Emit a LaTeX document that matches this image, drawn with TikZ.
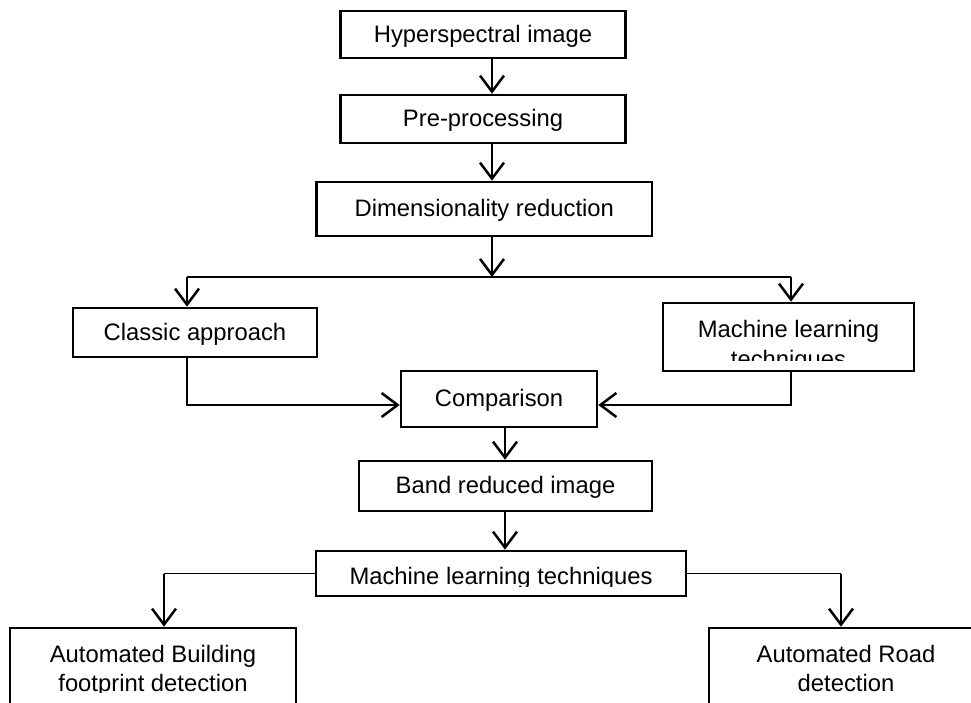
\documentclass[tikz,border=0pt]{standalone}
\usepackage{fontspec}
\setmainfont{Liberation Sans}
\usetikzlibrary{arrows.meta}

\tikzset{
	box/.style={draw, line width=2.6pt, inner sep=0pt, text height=20pt, text depth=5pt},
	txt/.style={inner sep=0pt, anchor=base},
	barb/.style={-{Straight Barb[length=16pt, width=24pt, line width=2.5pt]}},
	flow/.style={line width=2.5pt, barb},
	feed/.style={line width=1.5pt},
}

\begin{document}
\begin{tikzpicture} [x=1pt, y=-1pt, font=\fontsize{23.8pt}{30pt}\selectfont]
		\path [use as bounding box, fill=white] (0,0) rectangle (971,702);
		\clip (0,0) rectangle (971,702);

		\node (hsi) [box, minimum width=284.5pt, minimum height=47pt] at (483,34.5) {Hyperspectral image};
		\node (prep) [box, minimum width=284.5pt, minimum height=48pt] at (483,119) {Pre-processing};
		\node (dimred) [box, minimum width=335.5pt, minimum height=54pt] at (484.3,209) {Dimensionality reduction};
		\node (classic) [box, minimum width=244pt, minimum height=49pt] at (195,332.5) {Classic approach};
		\node (mlt) [box, minimum width=251pt, minimum height=68pt] at (788.5,337) {};
		\node (cmp) [box, minimum width=196pt, minimum height=56pt] at (499,399) {Comparison};
		\node (band) [box, minimum width=293pt, minimum height=50pt] at (505.5,486) {Band reduced image};
		\node (mlb) [box, minimum width=370pt, minimum height=45pt] at (501,573.5) {};
		\node (bldg) [box, minimum width=286pt, minimum height=112pt] at (153,684) {};
		\node (road) [box, minimum width=320pt, minimum height=112pt] at (869,684) {};

		\begin{scope}
			\clip (mlt.north west) rectangle (mlt.east |- 0,360);
			\node (mlt1) [txt] at (788.5,337) {Machine learning};
			\node (mlt2) [txt] at (788.5,367) {techniques};
		\end{scope}
		\begin{scope}
			\clip (mlb.north west) rectangle (mlb.east |- 0,586);
			\node (mlb1) [txt] at (501,584) {Machine learning techniques};
		\end{scope}
		\begin{scope}
			\clip (bldg.north west) rectangle (bldg.east |- 0,692);
			\node (bldg1) [txt] at (153,662) {Automated Building};
			\node (bldg2) [txt] at (153,691) {footprint detection};
		\end{scope}
		\begin{scope}
			\clip (road.north west) rectangle (road.east |- 0,692);
			\node (road1) [txt] at (846,662) {Automated Road};
			\node (road2) [txt] at (846,691) {detection};
		\end{scope}

		\coordinate (trunk) at (492,0);
		\coordinate (split) at (492,277);
		\coordinate (left) at (187,0);
		\coordinate (right) at (791,0);
		\coordinate (join) at (0,405);
		\coordinate (tail) at (505,0);
		\coordinate (bldgdrop) at (164,0);
		\coordinate (roaddrop) at (841,0);

		\draw [feed] (split -| left) -- (split -| right);
		\draw [feed, barb] (classic.south -| left) |- (cmp.west |- join);
		\draw [feed, barb] (mlt.south -| right) |- (cmp.east |- join);
		\draw [feed] (mlb.west) -- (mlb.west -| bldgdrop);
		\draw [feed] (mlb.east) -- (mlb.east -| roaddrop);

		\path [flow]
		(hsi.south -| trunk) edge (prep.north -| trunk)
		(prep.south -| trunk) edge (dimred.north -| trunk)
		(dimred.south -| trunk) edge (split)
		(split -| left) edge (classic.north -| left)
		(split -| right) edge (mlt.north -| right)
		(cmp.south -| tail) edge (band.north -| tail)
		(band.south -| tail) edge (mlb.north -| tail)
		(mlb.west -| bldgdrop) edge (bldg.north -| bldgdrop)
		(mlb.east -| roaddrop) edge (road.north -| roaddrop)
		;
	\end{tikzpicture}
\end{document}
